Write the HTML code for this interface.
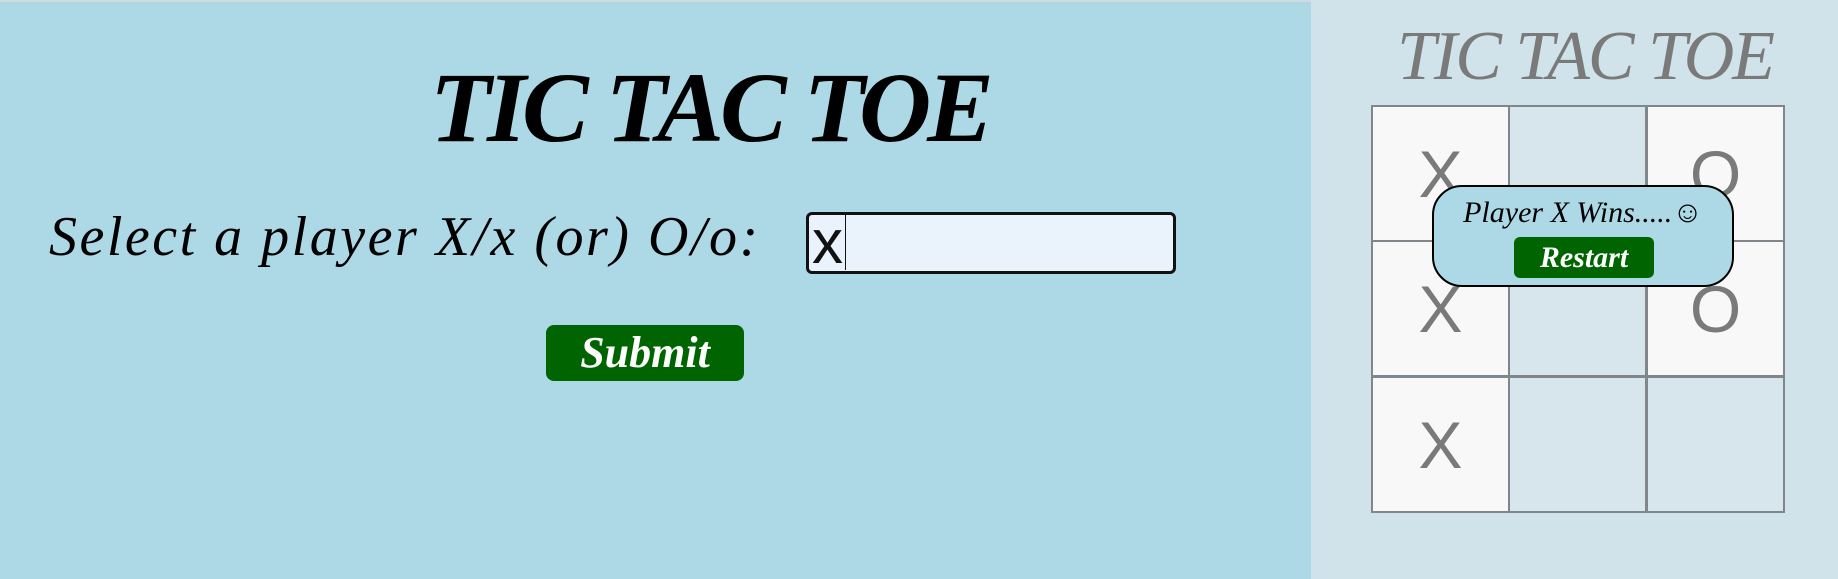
<!DOCTYPE html>
<html><head><style>
body{margin:0;width:1838px;height:579px;overflow:hidden;position:relative;font-family:"Liberation Serif",serif;}
.l{position:absolute;left:0;top:0;width:1311px;height:579px;background:#add8e6;border-top:2px solid #cfdde2;box-sizing:border-box}
.r{position:absolute;left:1311px;top:0;width:527px;height:579px;background:#d0e3ea}
.a{position:absolute;white-space:nowrap}
.c{position:absolute;width:139px;height:137px;box-sizing:border-box;border:2px solid #7f878a;font-family:"Liberation Sans",sans-serif;font-size:66px;color:#7a7a7a;display:flex;align-items:center;justify-content:center}
</style></head><body>
<div class="l"></div><div class="r"></div>
<div class="a" style="left:430px;top:50px;width:540px;text-align:center;font-size:100px;font-style:italic;color:#000;letter-spacing:-4px;font-weight:bold">TIC TAC TOE</div>
<div class="a" style="left:49px;top:205px;font-size:56px;font-style:italic;color:#000;letter-spacing:2.5px">Select a player X/x (or) O/o:</div>
<div class="a" style="left:806px;top:212px;width:370px;height:62px;box-sizing:border-box;border:3px solid #111;border-radius:6px;background:#eaf2fc"></div>
<div class="a" style="left:812px;top:214px;font-family:'Liberation Sans',sans-serif;font-size:62px;color:#111;border-right:1px solid #111;padding-right:2px;height:56px;line-height:58px">x</div>
<div class="a" style="left:546px;top:325px;width:198px;height:56px;background:#006400;border-radius:8px;color:#fff;font-size:44px;font-style:italic;font-weight:bold;text-align:center;line-height:56px">Submit</div>
<div class="a" style="left:1395px;top:17px;width:380px;text-align:center;font-size:70px;font-style:italic;color:#7a7a7a;letter-spacing:-2px">TIC TAC TOE</div>
<div class="c" style="left:1371px;top:105px;background:#f8f8f8">X</div>
<div class="c" style="left:1508px;top:105px;background:#d6e6ec"></div>
<div class="c" style="left:1646px;top:105px;background:#f8f8f8">O</div>
<div class="c" style="left:1371px;top:240px;background:#f8f8f8">X</div>
<div class="c" style="left:1508px;top:240px;background:#d6e6ec"></div>
<div class="c" style="left:1646px;top:240px;background:#f8f8f8">O</div>
<div class="c" style="left:1371px;top:376px;background:#f8f8f8">X</div>
<div class="c" style="left:1508px;top:376px;background:#d6e6ec"></div>
<div class="c" style="left:1646px;top:376px;background:#d6e6ec"></div>
<div class="a" style="left:1432px;top:185px;width:302px;height:102px;box-sizing:border-box;border:2px solid #000;border-radius:30px;background:#add8e6"></div>
<div class="a" style="left:1432px;top:196px;width:302px;text-align:center;font-size:30px;font-style:italic;color:#000">Player X Wins.....☺</div>
<div class="a" style="left:1514px;top:237px;width:140px;height:41px;background:#006400;border-radius:6px;color:#fff;font-size:30px;font-style:italic;font-weight:bold;text-align:center;line-height:41px">Restart</div>
</body></html>
